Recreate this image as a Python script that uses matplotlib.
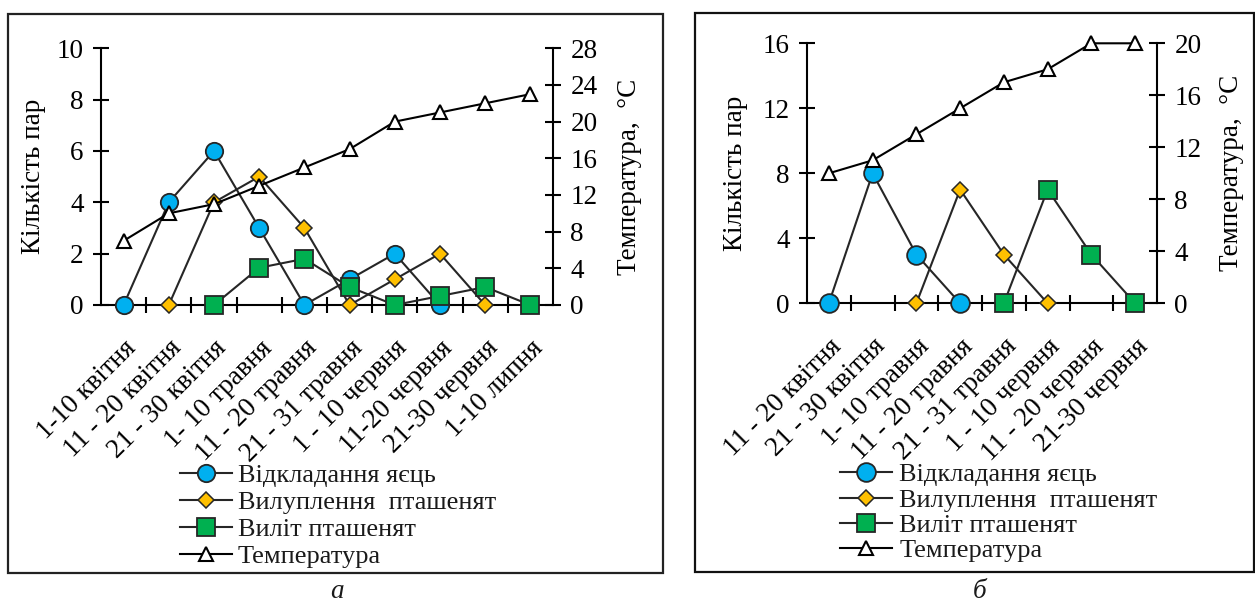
import numpy as np
import matplotlib
matplotlib.use("Agg")
import matplotlib.pyplot as plt
import matplotlib.transforms as mtransforms
from matplotlib.patches import Rectangle

plt.rcParams['font.family'] = ['Liberation Serif', 'DejaVu Serif']
plt.rcParams['font.size'] = 19.5
plt.rcParams['text.color'] = '#1a1a1a'

nan = np.nan

# ---- panel a ----
cats_a = ["1-10 квітня", "11 - 20 квітня", "21 - 30 квітня", "1- 10 травня",
          "11 - 20 травня", "21 - 31 травня", "1 - 10 червня", "11-20 червня",
          "21-30 червня", "1-10 липня"]
eggs_a = [0, 4, 6, 3, 0, 1, 2, 0, nan, nan]
hatch_a = [nan, 0, 4, 5, 3, 0, 1, 2, 0, nan]
fledge_a = [nan, nan, 0, 1.45, 1.8, 0.7, 0, 0.35, 0.7, 0]
temp_a = [7, 10, 11, 13, 15, 17, 20, 21, 22, 23]
ylim_a = (0, 10); yticks_a = [0, 2, 4, 6, 8, 10]
tlim_a = (0, 28); tticks_a = [0, 4, 8, 12, 16, 20, 24, 28]

# ---- panel b ----
cats_b = ["11 - 20 квітня", "21 - 30 квітня", "1- 10 травня", "11 - 20 травня",
          "21 - 31 травня", "1 - 10 червня", "11 - 20 червня", "21-30 червня"]
eggs_b = [0, 8, 3, 0, nan, nan, nan, nan]
hatch_b = [nan, nan, 0, 7, 3, 0, nan, nan]
fledge_b = [nan, nan, nan, nan, 0, 7, 3, 0]
temp_b = [10, 11, 13, 15, 17, 18, 20, 20]
ylim_b = (0, 16); yticks_b = [0, 4, 8, 12, 16]
tlim_b = (0, 20); tticks_b = [0, 4, 8, 12, 16, 20]

legend_labels = ["Відкладання яєць", "Вилуплення  пташенят", "Виліт пташенят", "Температура"]
ylabel_left = "Кількість пар"
ylabel_right = "Температура,  °C"

W, H = 1255, 605
fig = plt.figure(figsize=(W / 100, H / 100), dpi=100)

LC = '#262626'
EC = '#262626'
FS = 19.5


def fx(px):
    return px / W


def fy(py):
    return (H - py) / H


def panel(rect, cats, eggs, hatch, fledge, temp, ylim, yticks, tlim, tticks,
          ylab_x, ylab2_x, leg_xy, leg_spacing, leg_tpad, sub, sub_xy, ms_big):
    ax = fig.add_axes(rect)
    n = len(cats)
    x = np.arange(n)
    l1, = ax.plot(x, np.array(eggs, float), color=LC, lw=1.5, marker='o', ms=ms_big,
                  mfc='#00B0F0', mec=EC, mew=1.3, zorder=3, clip_on=False)
    l2, = ax.plot(x, np.array(hatch, float), color=LC, lw=1.5, marker='D', ms=8,
                  mfc='#FFC000', mec=EC, mew=1.1, zorder=3, clip_on=False)
    l3, = ax.plot(x, np.array(fledge, float), color=LC, lw=1.5, marker='s', ms=ms_big,
                  mfc='#00B050', mec=EC, mew=1.3, zorder=3, clip_on=False)
    ax.set_xlim(-0.5, n - 0.5)
    ax.set_ylim(*ylim)
    ax.set_yticks(yticks)
    ax.set_xticks(x)
    ax.set_xticklabels(cats, rotation=45, ha='right', va='top', rotation_mode='anchor')
    shift = mtransforms.ScaledTranslation(-10 / 100, 0, fig.dpi_scale_trans)
    for lab in ax.get_xticklabels():
        lab.set_transform(lab.get_transform() + shift)
    ax.set_xticks(np.arange(0.5, n - 1, 1), minor=True)
    ax.tick_params(axis='x', which='major', length=0, pad=22, labelsize=FS)
    ax.tick_params(axis='x', which='minor', direction='inout', length=11, width=1.5, color='black')
    ax.tick_params(axis='y', direction='inout', length=11, width=1.5, pad=7, labelsize=FS)
    for s in ['top', 'right']:
        ax.spines[s].set_visible(False)
    for s in ['left', 'bottom']:
        ax.spines[s].set_linewidth(1.5)
        ax.spines[s].set_color('black')
    ax.patch.set_visible(False)

    ax2 = ax.twinx()
    l4, = ax2.plot(x, temp, color='black', lw=1.5, marker='^', ms=10,
                   mfc='white', mec='black', mew=1.5, zorder=4, clip_on=False)
    ax2.set_ylim(*tlim)
    ax2.set_yticks(tticks)
    ax2.tick_params(axis='y', direction='inout', length=11, width=1.5, pad=7, labelsize=FS)
    for s in ['top', 'left', 'bottom']:
        ax2.spines[s].set_visible(False)
    ax2.spines['right'].set_linewidth(1.5)
    ax2.spines['right'].set_color('black')

    ax.set_ylabel(ylabel_left, fontsize=FS, va='center', ha='center')
    ax.yaxis.set_label_coords(fx(ylab_x), 0.5,
                              transform=mtransforms.blended_transform_factory(fig.transFigure, ax.transAxes))
    ax2.set_ylabel(ylabel_right, fontsize=FS, va='center', ha='center', rotation=90)
    ax2.yaxis.set_label_coords(fx(ylab2_x), 0.5,
                               transform=mtransforms.blended_transform_factory(fig.transFigure, ax2.transAxes))

    fig.legend([l1, l2, l3, l4], legend_labels, loc='upper left',
               bbox_to_anchor=(fx(leg_xy[0]), fy(leg_xy[1])),
               bbox_transform=fig.transFigure, frameon=False, fontsize=19,
               borderpad=0, borderaxespad=0, handlelength=1.97, handletextpad=leg_tpad,
               labelspacing=leg_spacing)
    fig.text(fx(sub_xy[0]), fy(sub_xy[1]), sub, style='italic', fontsize=FS,
             ha='center', va='bottom')
    return ax, ax2


# panel a axes: x 101..553, y 48.3..305
panel([fx(101), fy(305), (553 - 101) / W, (305 - 48.3) / H], cats_a, eggs_a, hatch_a,
      fledge_a, temp_a, ylim_a, yticks_a, tlim_a, tticks_a,
      34, 630, (180, 464), 0.13, 0.23, "а", (337, 604), 12.5)
# panel b axes: x 807..1157, y 43.3..303.3
panel([fx(807), fy(303.3), (1157 - 807) / W, (303.3 - 43.3) / H], cats_b, eggs_b, hatch_b,
      fledge_b, temp_b, ylim_b, yticks_b, tlim_b, tticks_b,
      736, 1232, (840, 463), 0.07, 0.27, "б", (980, 604), 13.5)

# frames
fig.patches.append(Rectangle((fx(8), fy(573)), (663 - 8) / W, (573 - 14) / H,
                             transform=fig.transFigure, fill=False, lw=1.6,
                             edgecolor='#222222'))
fig.patches.append(Rectangle((fx(695), fy(572)), (1253.5 - 695) / W, (572 - 13) / H,
                             transform=fig.transFigure, fill=False, lw=1.6,
                             edgecolor='#111111'))

fig.savefig("out.png", dpi=100, facecolor='white')
